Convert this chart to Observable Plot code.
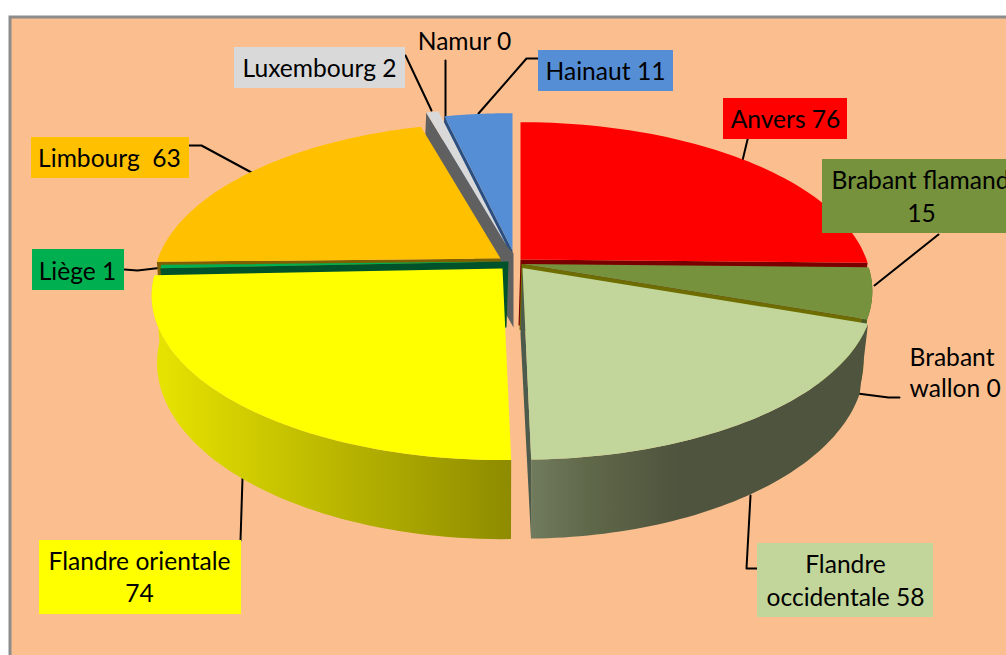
<!DOCTYPE html>
<html><head><meta charset="utf-8">
<style>html,body{margin:0;padding:0;background:#fff;overflow:hidden}svg{display:block}</style>
<script src="https://cdn.jsdelivr.net/npm/d3@7"></script>
<script src="https://cdn.jsdelivr.net/npm/@observablehq/plot@0.6"></script>
</head><body><div id="chart"></div>
<script>
// --- data ---
const provinces = ["Anvers","Brabant flamand","Brabant wallon","Flandre occidentale","Flandre orientale","Liège","Limbourg","Luxembourg","Namur","Hainaut"];
const counts = [76,15,0,58,74,1,63,2,0,11];
const topColors = ["#ff0000","#76923c","#a6a6a6","#c2d69b","#ffff00","#00b050","#ffc000","#d9d9d9","#7f7f7f","#558ed5"];
const wallColors = ["#7a0000","#4a5a26","#666","url(#gOcc)","url(#gOri)","#00522a","#7f6000","#606060","#666","#2f5c96"];
const edgeColors = ["#7a0000","#6e6e00","#666","#4c5b4c","#8e8b00","#00522a","#7f6000","#606060","#666","#2a4f80"];
// --- layout of the exploded slices: centre x, centre y, radius factor ---
const centreX = [520,521,0,522,502,508,500,506,0,512];
const centreY = [259,263.5,0,267.5,268,261,258,245,0,250];
const radius  = [1,1,0,1,1,1,.99,1,0,1];
const paintOrder = [0,9,7,6,5,1,4,3];
const showOuter = [false,true,false,true,true,false,false,false,false,false];
const showStartWall = [false,false,false,false,false,true,true,true,false,true];
const showEndWall = [true,true,false,true,false,false,false,false,false,false];
const A = 346, B = 160, K = .165, D = 66;
const luxHub = [{x:513,y:327},{x:513,y:253}];
// --- label layout ---
const boxes = [
  {x1:234,x2:405,y1:47,y2:88,f:"#d9d9d9"},{x1:538,x2:673,y1:50,y2:91,f:"#558ed5"},
  {x1:723,x2:847,y1:98,y2:139,f:"#ff0000"},{x1:822,x2:1006,y1:159,y2:233,f:"#76923c"},
  {x1:31,x2:189,y1:137,y2:178,f:"#ffc000"},{x1:32,x2:124,y1:249,y2:290,f:"#00b050"},
  {x1:757,x2:933,y1:543,y2:617,f:"#c2d69b"},{x1:39,x2:241,y1:540,y2:614,f:"#ffff00"}];
const labelsMiddle = [
  ["Luxembourg 2",319,69],["Namur 0",464,42],["Hainaut 11",605,72],["Anvers 76",785,120],["15",921,214],
  ["Limbourg  63",109,159],["Liège 1",77,272],["Flandre",845,565],["occidentale 58",845,598],
  ["Flandre orientale",139,562],["74",139,594]].map(([t,x,y])=>({t,x,y}));
const labelsStart = [["Brabant flamand",831,181],["Brabant",909,358],["wallon 0",909,389]].map(([t,x,y])=>({t,x,y}));
const leaders = [
  [[405,55],[431,110]],[[445,60],[445,124]],[[538,58],[526,58],[478,113]],[[748,135],[742,160]],
  [[938,234],[874,285]],[[899,397],[888,397],[857,393]],[[757,568],[746,568],[750,495]],
  [[240,540],[242,478]],[[124,269],[137,270],[163,267]],[[189,145],[201,145],[251,172]]];

// --- geometry derived from the counts ---
const total = d3.sum(counts);
const ends = d3.cumsum(counts).map(c => c / total * 360);
const rad = d => d * Math.PI / 180;
function topPt(i, t, r = radius[i]) {
  const u = Math.sin(rad(t)) * r, v = Math.cos(rad(t)) * r, s = 1 / (1 + K * v);
  return {x: centreX[i] + A * u * s, y: centreY[i] - B * v * s};
}
function botPt(i, t, r = radius[i]) {
  const u = Math.sin(rad(t)) * r, v = Math.cos(rad(t)) * r, s = 1 / (1 + K * v);
  return {x: centreX[i] - 2 * (1 + v) + A * u * s * .98, y: centreY[i] - B * v * s + D * s};
}
const arc = (f, i, a, b) => d3.range(0, 61).map(k => f(i, a + (b - a) * k / 60));
const shape = (pts, fill) => Plot.line(pts, {x:"x", y:"y", fill, stroke:"none", curve:"linear"});
const marks = [];
for (const i of paintOrder) {
  const a = i ? ends[i-1] : 0, b = ends[i];
  const c = topPt(i, 0, 0), cb = botPt(i, 0, 0);
  const hub = provinces[i] === "Luxembourg" ? luxHub : [cb];
  if (showStartWall[i]) marks.push(shape([c, topPt(i,a), botPt(i,a), ...hub], edgeColors[i]));
  if (showEndWall[i]) marks.push(shape([c, topPt(i,b), botPt(i,b), cb], edgeColors[i]));
  if (showOuter[i]) marks.push(shape([...arc(topPt,i,a,b), ...arc(botPt,i,a,b).reverse()], wallColors[i]));
  marks.push(shape([c, ...arc(topPt,i,a,b)], topColors[i]));
}
const defs = () => {
  const g = d3.create("svg:defs");
  const grad = (id, x1, x2, stops) => {
    const l = g.append("linearGradient").attr("id", id).attr("gradientUnits","userSpaceOnUse")
      .attr("x1",x1).attr("x2",x2).attr("y1",0).attr("y2",0);
    stops.forEach(([o,c]) => l.append("stop").attr("offset",o).attr("stop-color",c));
  };
  grad("gOri", 160, 510, [[0,"#e6e200"],[1,"#8e8b00"]]);
  grad("gOcc", 532, 680, [[0,"#707a5c"],[.4,"#5f6749"],[1,"#4e543d"]]);
  return g.node();
};
const frameRect = [{x1:10,x2:1010,y1:17,y2:660}];
const plot = Plot.plot({
  width:1006, height:655, margin:0,
  x:{domain:[0,1006], range:[0,1006], axis:null},
  y:{domain:[0,655], range:[0,655], axis:null},
  style:{background:"#fff", fontFamily:"Lato, sans-serif", overflow:"hidden"},
  marks:[
    defs,
    Plot.rect(frameRect,{x1:"x1",x2:"x2",y1:"y1",y2:"y2",fill:"#fbbf8f",stroke:"#8c8c8c",strokeWidth:3}),
    ...leaders.map(l => Plot.line(l.map(([x,y])=>({x,y})),{x:"x",y:"y",stroke:"#000",strokeWidth:2,curve:"linear"})),
    ...marks,
    Plot.rect(boxes,{x1:"x1",x2:"x2",y1:"y1",y2:"y2",fill:d=>d.f}),
    Plot.text(labelsMiddle,{x:"x",y:"y",text:"t",fontSize:24.6,fill:"#000",textAnchor:"middle"}),
    Plot.text(labelsStart,{x:"x",y:"y",text:"t",fontSize:24.6,fill:"#000",textAnchor:"start"})
  ]
});
document.getElementById("chart").append(plot);
</script></body></html>
